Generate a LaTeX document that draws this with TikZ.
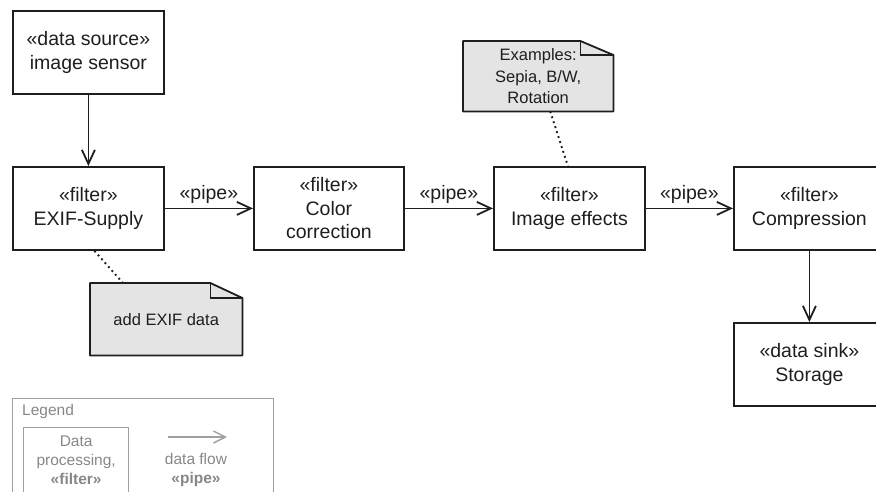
\documentclass[tikz,border=0pt]{standalone}
\usepackage{fontspec}
\setmainfont{Liberation Sans}
\usetikzlibrary{arrows.meta,calc,backgrounds}

\definecolor{notefill}{RGB}{228,228,228}
\definecolor{legendline}{RGB}{160,160,160}
\definecolor{legendtext}{RGB}{135,135,135}
\definecolor{ink}{RGB}{30,30,30}

\begin{document}
\begin{tikzpicture}[x=1pt,y=-1pt,
  compbox/.style={draw=ink, line width=1.8pt, minimum width=151pt, minimum height=83pt,
    inner sep=0pt, align=center, anchor=north west, text=ink,
    font=\fontsize{19.5}{23.5}\selectfont},
  notebox/.style={inner sep=0pt, align=center, anchor=north west, text=ink,
    font=\fontsize{16.5}{21.5}\selectfont},
  noteline/.style={draw=ink, line width=1.8pt, fill=notefill, line join=round},
  foldline/.style={draw=ink, line width=1.5pt},
  flow/.style={draw=ink, line width=1.8pt, -{Straight Barb[length=14pt,width=13pt,line width=1.8pt]}},
  pipelabel/.style={above, inner sep=0pt, yshift=3.5pt, text=ink,
    font=\fontsize{19.5}{23.5}\selectfont},
  anchorline/.style={draw=ink, line width=1.9pt, dash pattern=on 1.9pt off 3.3pt},
  legendframe/.style={draw=legendline, line width=1.3pt, anchor=north west, inner sep=0pt},
  legendtxt/.style={text=legendtext, align=center, inner sep=0pt,
    font=\fontsize{15.5}{19}\selectfont},
  legendflow/.style={draw=legendline, line width=1.4pt,
    -{Straight Barb[length=12pt,width=12pt,line width=1.4pt]}}
]
\useasboundingbox (0,0) rectangle (876,491);
\clip (0,0) rectangle (876,491);

% components of the pipeline
\node[compbox] (src)     at (12,10)   {«data source»\\image sensor};
\node[compbox] (exif)    at (12,166)  {«filter»\\EXIF-Supply};
\node[compbox, minimum width=150pt] (color) at (253,166) {«filter»\\Color\\correction};
\node[compbox] (effects) at (493,166) {«filter»\\Image effects};
\node[compbox] (comp)    at (733,166) {«filter»\\Compression};
\node[compbox] (sink)    at (733,322) {«data sink»\\Storage};

% pipes between the components
\draw[flow] (src) -- (exif);
\draw[flow] (exif) -- node[pipelabel] {«pipe»} (color);
\draw[flow] (color) -- node[pipelabel] {«pipe»} (effects);
\draw[flow] (effects) -- node[pipelabel] {«pipe»} (comp);
\draw[flow] (comp) -- (sink);

% comment notes
\node[notebox, minimum width=152pt, minimum height=72pt] (exifnote) at (90,283) {add EXIF data};
\node[notebox, minimum width=150pt, minimum height=70pt] (exnote) at (463,41)
  {Examples:\\Sepia, B/W,\\Rotation};

\begin{scope}[on background layer]
  \foreach \n/\fx/\fy in {exifnote/32/15, exnote/33/14} {
    \draw[noteline] (\n.south west) -- (\n.south east) -- ($(\n.north east)+(0,\fy)$)
      -- ($(\n.north east)+(-\fx,0)$) -- (\n.north west) -- cycle;
    \draw[foldline] ($(\n.north east)+(-\fx,0)$) -- ($(\n.north east)+(-\fx,\fy)$)
      -- ($(\n.north east)+(0,\fy)$);
  }
\end{scope}

\draw[anchorline] ($(exif.south)+(6,0)$) -- ($(exifnote.north west)+(33,0)$);
\draw[anchorline] ($(exnote.south)+(12,0)$) -- ($(effects.north)+(-1.5,0)$);

% legend
\node[legendframe, minimum width=261pt, minimum height=130pt] (legend) at (12,398) {};
\node[legendtxt, anchor=west] (legendtitle) at (22,411) {Legend};
\node[legendframe, minimum width=105pt, minimum height=66pt, legendtxt, anchor=north west]
  (legproc) at (23,427) {Data\\processing,\\\textbf{«filter»}};
\coordinate (lflowA) at (168,437);
\coordinate (lflowB) at (227,437);
\draw[legendflow] (lflowA) -- (lflowB);
\node[legendtxt] (legflow) at (196,470) {data flow\\\textbf{«pipe»}};
\end{tikzpicture}
\end{document}
